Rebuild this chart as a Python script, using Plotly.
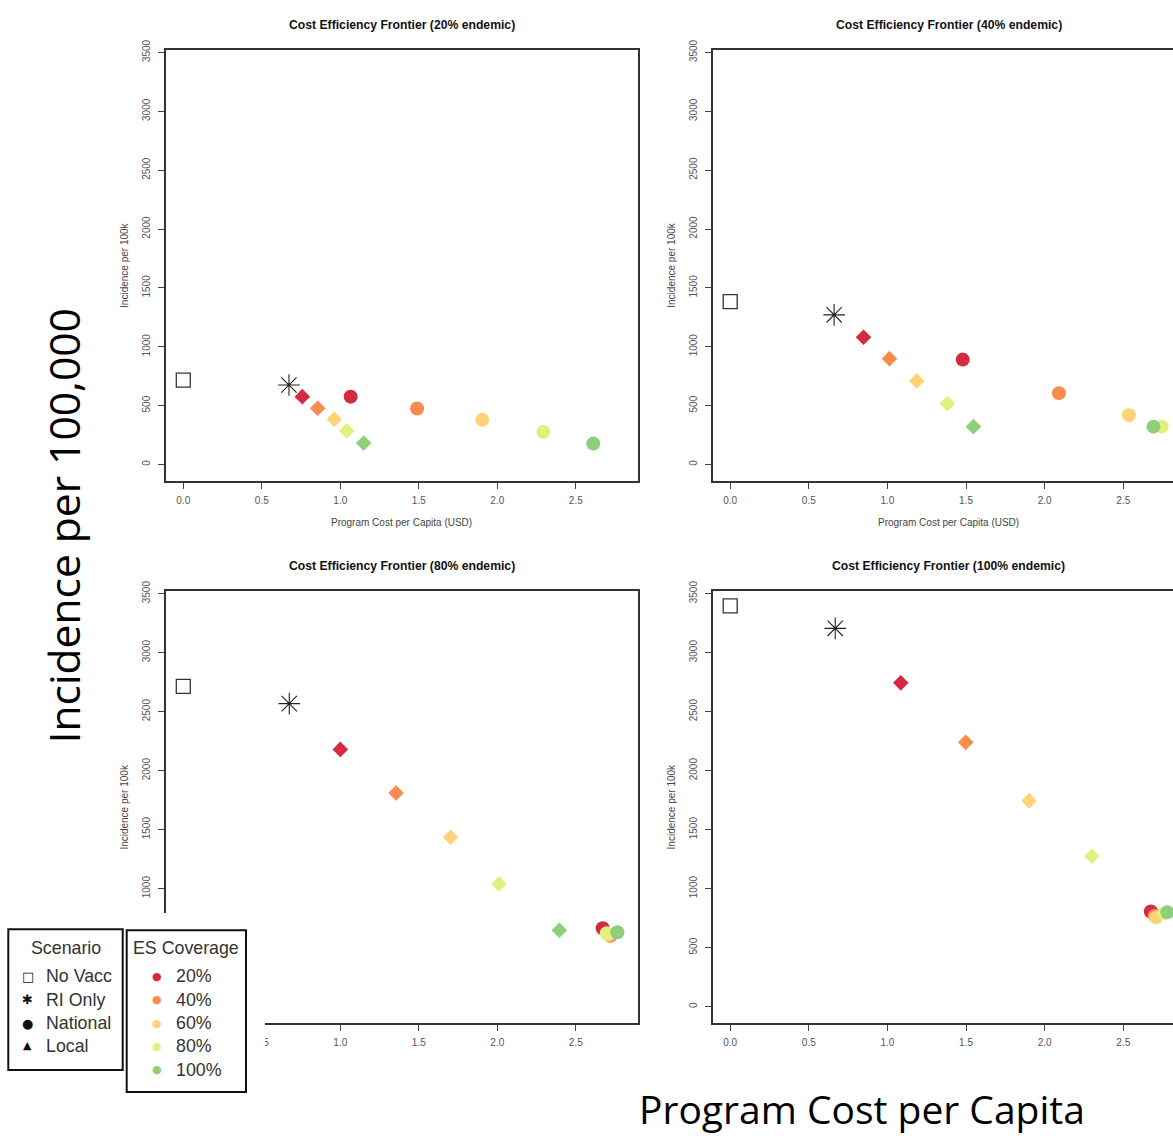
import plotly.graph_objects as go

W, H = 1173, 1136

# ---------------- data ----------------
panel_titles = ["Cost Efficiency Frontier (20% endemic)",
                "Cost Efficiency Frontier (40% endemic)",
                "Cost Efficiency Frontier (80% endemic)",
                "Cost Efficiency Frontier (100% endemic)"]
coverage_labels = ["20%", "40%", "60%", "80%", "100%"]
coverage_colors = ["#D62A42", "#F98B4C", "#FDD475", "#E2F07F", "#8DCF7B"]

novacc_x = [0.0, 0.0, 0.0, 0.0]
novacc_y = [717, 1383, 2714, 3396]
rionly_x = [0.673, 0.661, 0.675, 0.668]
rionly_y = [675, 1271, 2568, 3206]

local_x = [[0.758, 0.856, 0.962, 1.041, 1.149],
           [0.848, 1.013, 1.186, 1.381, 1.547],
           [1.000, 1.355, 1.703, 2.011, 2.395],
           [1.085, 1.498, 1.901, 2.299, 2.700]]
local_y = [[576, 477, 385, 287, 182],
           [1081, 899, 710, 517, 321],
           [2180, 1810, 1436, 1040, 647],
           [2744, 2240, 1744, 1274, 790]]
national_x = [[1.066, 1.489, 1.904, 2.293, 2.611],
              [1.479, 2.091, 2.536, 2.745, 2.692],
              [2.671, 2.720, 2.710, 2.697, 2.765],
              [2.675, 2.700, 2.709, 2.760, 2.780]]
national_y = [[576, 475, 379, 278, 177],
              [891, 606, 419, 321, 321],
              [664, 600, 612, 622, 630],
              [806, 770, 756, 790, 800]]

x_ticks = [0.0, 0.5, 1.0, 1.5, 2.0, 2.5]
x_ticktext = ["0.0", "0.5", "1.0", "1.5", "2.0", "2.5"]
y_ticks = [0, 500, 1000, 1500, 2000, 2500, 3000, 3500]
y_ticktext = ["0", "500", "1000", "1500", "2000", "2500", "3000", "3500"]
scenario_labels = ["No Vacc", "RI Only", "National", "Local"]
scenario_glyphs = ["□", "✱", "●", "▲"]

# ---------------- layout geometry (pixels) ----------------
def px(x):
    return x / W

def py(y):
    return 1 - y / H

col_px = [(165.7, 638.0), (712.5, 1173.0)]
row_px = [(40.0, 475.0), (586.0, 1022.0)]
x_ranges = [[-0.112, 2.896], [-0.1125, (1173 - 730) / 157.3]]
y_range = [-139, 3524]

fig = go.Figure()
axis_font = dict(family="Liberation Sans, Arial, sans-serif", size=10, color="#555555")
lab_font = dict(family="Liberation Sans, Arial, sans-serif", size=10, color="#444444")

annotations = []
for i in range(4):
    r, c = divmod(i, 2)
    n = i + 1
    xa = "x" if n == 1 else f"x{n}"
    ya = "y" if n == 1 else f"y{n}"
    # No Vacc
    fig.add_trace(go.Scatter(x=[novacc_x[i]], y=[novacc_y[i]], mode="markers",
                             marker=dict(symbol="square-open", size=14, color="#333333",
                                         line=dict(width=1.3, color="#333333")),
                             xaxis=xa, yaxis=ya, showlegend=False, hoverinfo="skip"))
    # RI only
    fig.add_trace(go.Scatter(x=[rionly_x[i]], y=[rionly_y[i]], mode="markers",
                             marker=dict(symbol="asterisk-open", size=18, color="#222222",
                                         line=dict(width=1.1, color="#222222")),
                             xaxis=xa, yaxis=ya, showlegend=False, hoverinfo="skip"))
    # Local (diamonds)
    fig.add_trace(go.Scatter(x=local_x[i], y=local_y[i], mode="markers",
                             marker=dict(symbol="diamond", size=12, color=coverage_colors,
                                         line=dict(width=0)),
                             xaxis=xa, yaxis=ya, showlegend=False, hoverinfo="skip"))
    # National (circles)
    fig.add_trace(go.Scatter(x=national_x[i], y=national_y[i], mode="markers",
                             marker=dict(symbol="circle", size=14, color=coverage_colors,
                                         line=dict(width=0)),
                             xaxis=xa, yaxis=ya, showlegend=False, hoverinfo="skip"))

    x0, x1 = col_px[c]
    y0, y1 = row_px[r]
    key_x = "xaxis" if n == 1 else f"xaxis{n}"
    key_y = "yaxis" if n == 1 else f"yaxis{n}"
    # in the lower-left panel the legend covers the first labels
    xt = list(x_ticktext)
    yt = list(y_ticktext)
    if n == 3:
        xt[0] = ""
        yt[0] = ""
        yt[1] = ""
    fig.layout[key_x] = dict(domain=[px(x0), px(x1)], range=x_ranges[c], anchor=ya,
                             tickvals=x_ticks, ticktext=xt, ticks="outside",
                             ticklen=6, tickwidth=1, tickcolor="#444444",
                             ticklabelstandoff=3,
                             showline=True, linewidth=1.5, linecolor="#333333", mirror=True,
                             showgrid=False, zeroline=False, tickfont=axis_font, fixedrange=True)
    fig.layout[key_y] = dict(domain=[py(y1), py(y0)], range=y_range, anchor=xa,
                             tickvals=y_ticks, ticktext=yt, ticks="outside", ticklen=6,
                             tickwidth=1, tickcolor="#444444", tickangle=-90,
                             ticklabelstandoff=4,
                             showline=True, linewidth=1.5, linecolor="#333333",
                             mirror=(c == 0), showgrid=False, zeroline=False,
                             tickfont=axis_font, fixedrange=True)
    full_right = 638.0 if c == 0 else 1185.0
    cx = (x0 + full_right) / 2
    # title
    annotations.append(dict(text="<b>" + panel_titles[i] + "</b>", x=px(cx), y=py(y0 - 25),
                            xref="paper", yref="paper", showarrow=False,
                            font=dict(family="Liberation Sans, Arial, sans-serif", size=12.2,
                                      color="#111111"),
                            xanchor="center", yanchor="middle"))
    # y axis title
    annotations.append(dict(text="Incidence per 100k", x=px(x0 - 41), y=py((y0 + y1) / 2),
                            xref="paper", yref="paper", showarrow=False, textangle=-90,
                            font=lab_font, xanchor="center", yanchor="middle"))
    if r == 0:
        annotations.append(dict(text="Program Cost per Capita (USD)", x=px(cx), y=py(y1 + 42),
                                xref="paper", yref="paper", showarrow=False,
                                font=lab_font, xanchor="center", yanchor="middle"))

# big axis labels
annotations.append(dict(text="Incidence per 100,000", x=px(63), y=py(521), xref="paper",
                        yref="paper", showarrow=False, textangle=-90,
                        font=dict(family="Open Sans, Noto Sans, sans-serif", size=42.5,
                                  color="#000000"),
                        xanchor="center", yanchor="middle"))
annotations.append(dict(text="Program Cost per Capita", x=px(862), y=py(1108), xref="paper",
                        yref="paper", showarrow=False,
                        font=dict(family="Open Sans, Noto Sans, sans-serif", size=39,
                                  color="#000000"),
                        xanchor="center", yanchor="middle"))

# legend boxes
shapes = [
    dict(type="rect", xref="paper", yref="paper", x0=0, x1=px(265), y0=0, y1=py(911),
         fillcolor="white", line=dict(width=0), layer="above"),
    dict(type="rect", xref="paper", yref="paper", x0=px(8.3), x1=px(122.7), y0=py(1069.3),
         y1=py(927.3), fillcolor="white", line=dict(width=2, color="#111111"), layer="above"),
    dict(type="rect", xref="paper", yref="paper", x0=px(126.7), x1=px(246), y0=py(1091.7),
         y1=py(928.3), fillcolor="white", line=dict(width=2, color="#111111"), layer="above"),
]
leg_font = dict(family="Liberation Sans, Arial, sans-serif", size=17.8, color="#333333")
annotations.append(dict(text="Scenario", x=px(65.5), y=py(946), xref="paper", yref="paper",
                        showarrow=False, font=leg_font, xanchor="center", yanchor="middle"))
annotations.append(dict(text="ES Coverage", x=px(186.4), y=py(946), xref="paper", yref="paper",
                        showarrow=False, font=leg_font, xanchor="center", yanchor="middle"))
scen_rows = [975, 998.5, 1022, 1045]
glyph_sizes = [13, 13, 13, 11]
for lab, g, yy, gs in zip(scenario_labels, scenario_glyphs, scen_rows, glyph_sizes):
    annotations.append(dict(text="<b>" + g + "</b>", x=px(27.7), y=py(yy), xref="paper",
                            yref="paper", showarrow=False,
                            font=dict(family="DejaVu Sans, sans-serif", size=gs, color="#111111"),
                            xanchor="center", yanchor="middle"))
    annotations.append(dict(text=lab, x=px(44), y=py(yy), xref="paper", yref="paper",
                            showarrow=False, font=leg_font, xanchor="left", yanchor="middle"))
cov_rows = [975, 998.5, 1022, 1045.5, 1069]
for lab, col, yy in zip(coverage_labels, coverage_colors, cov_rows):
    annotations.append(dict(text="●", x=px(157.3), y=py(yy), xref="paper", yref="paper",
                            showarrow=False,
                            font=dict(family="DejaVu Sans, sans-serif", size=11, color=col),
                            xanchor="center", yanchor="middle"))
    annotations.append(dict(text=lab, x=px(173.5), y=py(yy), xref="paper", yref="paper",
                            showarrow=False, font=leg_font, xanchor="left", yanchor="middle"))

fig.update_layout(width=W, height=H, margin=dict(l=0, r=0, t=0, b=0),
                  paper_bgcolor="white", plot_bgcolor="white",
                  annotations=annotations, shapes=shapes, showlegend=False)

post_js = ("document.documentElement.style.margin='0';"
           "document.body.style.margin='0';document.body.style.padding='0';"
           "document.body.style.overflow='hidden';"
           "var gd=document.getElementById('{plot_id}');"
           "gd.style.position='absolute';gd.style.left='0px';gd.style.top='0px';")
fig.write_html("out.html", config={"displayModeBar": False}, post_script=post_js)
